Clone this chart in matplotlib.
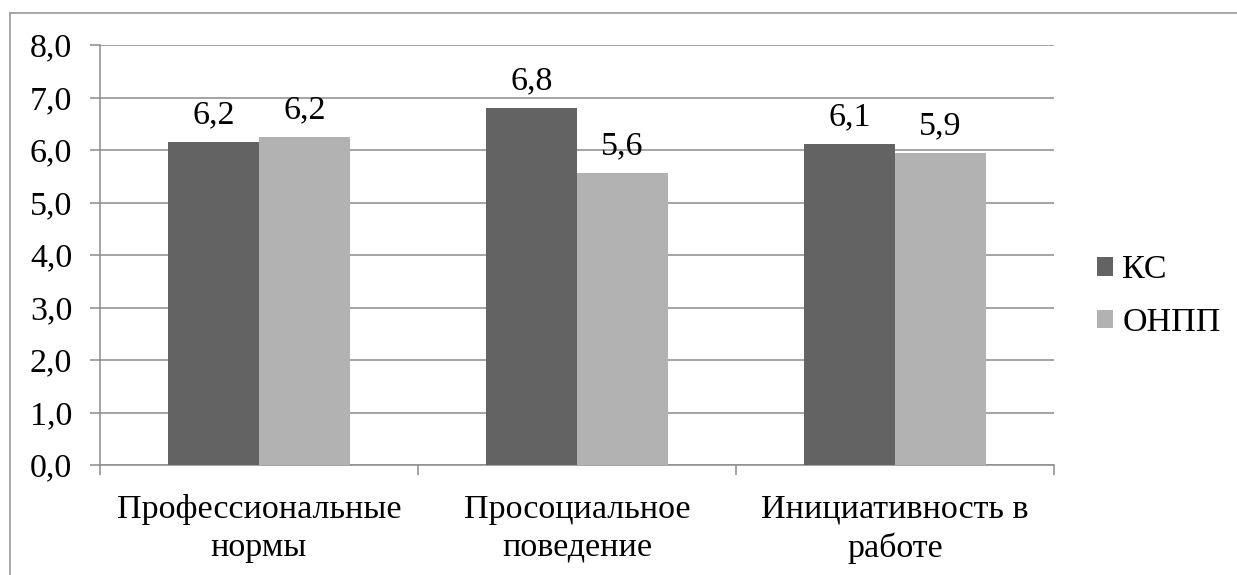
import matplotlib
matplotlib.use("Agg")
import matplotlib.pyplot as plt
from matplotlib.lines import Line2D
import numpy as np

categories = ["Профессиональные\nнормы", "Просоциальное\nповедение", "Инициативность в\nработе"]
series_names = ["КС", "ОНПП"]
ks_values = [6.15, 6.80, 6.12]
onpp_values = [6.24, 5.57, 5.94]
ks_labels = ["6,2", "6,8", "6,1"]
onpp_labels = ["6,2", "5,6", "5,9"]
yticks = [0, 1, 2, 3, 4, 5, 6, 7, 8]
ytick_labels = ["0,0", "1,0", "2,0", "3,0", "4,0", "5,0", "6,0", "7,0", "8,0"]

plt.rcParams['font.family'] = ['Liberation Serif', 'DejaVu Serif']
FS = 24.5

W, H = 1237, 575
fig = plt.figure(figsize=(W / 100, H / 100), dpi=100)
ax = fig.add_axes([100 / W, 1 - 465 / H, (1054 - 100) / W, (465 - 45) / H])

c_ks = "#636363"
c_onpp = "#b2b2b2"
grid_c = "#8c8c8c"

x = np.arange(len(categories))
w = 1 / 3.5
b1 = ax.bar(x - w / 2, ks_values, width=w, color=c_ks, label=series_names[0], zorder=3)
b2 = ax.bar(x + w / 2, onpp_values, width=w, color=c_onpp, label=series_names[1], zorder=3)

for bars, labs in ((b1, ks_labels), (b2, onpp_labels)):
    for r, t in zip(bars, labs):
        ax.annotate(t, (r.get_x() + r.get_width() / 2, r.get_height()),
                    xytext=(0, 13.5), textcoords="offset points",
                    ha="center", va="baseline", fontsize=FS, color="black", zorder=4)

ax.set_xlim(-0.5, len(categories) - 0.5)
ax.set_ylim(0, 8)
ax.set_yticks(yticks)
ax.set_yticklabels(ytick_labels, fontsize=FS)
ax.yaxis.grid(True, color=grid_c, linewidth=1.1, zorder=0)
ax.set_axisbelow(True)

ax.set_xticks(x)
ax.set_xticklabels(categories, fontsize=FS, linespacing=1.3)
ax.tick_params(axis="x", length=0, pad=21)
ax.set_xticks(np.arange(-0.5, len(categories)), minor=True)
ax.tick_params(axis="x", which="minor", length=7, width=1.1, color=grid_c, direction="out")
ax.tick_params(axis="y", length=7, width=1.1, color=grid_c, direction="out", pad=13)

for s in ("top", "right"):
    ax.spines[s].set_visible(False)
for s in ("left", "bottom"):
    ax.spines[s].set_color(grid_c)
    ax.spines[s].set_linewidth(1.1)

leg = fig.legend(handles=[b1, b2], labels=series_names, loc="center left",
                 bbox_to_anchor=(1097 / W, 1 - 296.5 / H), frameon=False,
                 fontsize=FS, handlelength=0.47, handleheight=0.47,
                 handletextpad=0.27, labelspacing=0.65, borderpad=0, borderaxespad=0)

border_c = "#a0a0a0"
fig.add_artist(Line2D([10 / W, 1], [1 - 12.5 / H, 1 - 12.5 / H], transform=fig.transFigure,
                      color=border_c, linewidth=1.3))
fig.add_artist(Line2D([10 / W, 10 / W], [0, 1 - 12.5 / H], transform=fig.transFigure,
                      color=border_c, linewidth=1.3))

fig.savefig("out.png", dpi=100)
